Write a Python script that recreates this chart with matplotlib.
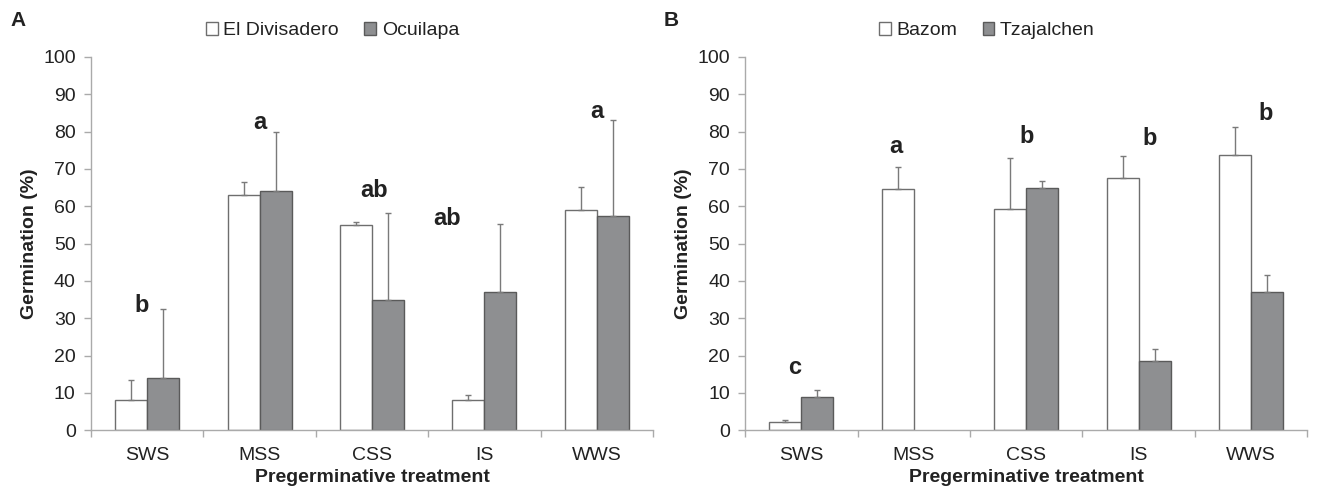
import matplotlib
matplotlib.use("Agg")
import matplotlib.pyplot as plt
import numpy as np

plt.rcParams['font.family'] = ['Liberation Sans', 'DejaVu Sans']

# Data
treatments = ['SWS', 'MSS', 'CSS', 'IS', 'WWS']

# Panel A
a_names = ['El Divisadero', 'Ocuilapa']
a_white = [8.0, 63.0, 55.0, 8.0, 59.0]
a_white_top = [13.5, 66.5, 55.7, 9.3, 65.2]
a_gray = [14.0, 64.0, 35.0, 37.0, 57.3]
a_gray_top = [32.5, 79.8, 58.3, 55.2, 83.0]
a_letters = ['b', 'a', 'ab', 'ab', 'a']
a_letter_y = [33.5, 82.5, 64.3, 56.8, 85.3]

# Panel B
b_names = ['Bazom', 'Tzajalchen']
b_white = [2.2, 64.6, 59.3, 67.6, 73.6]
b_white_top = [2.8, 70.4, 72.8, 73.5, 81.1]
b_gray = [9.0, 0.0, 64.8, 18.5, 37.0]
b_gray_top = [10.8, 0.0, 66.8, 21.7, 41.5]
b_letters = ['c', 'a', 'b', 'b', 'b']
b_letter_y = [16.9, 76.0, 78.6, 78.2, 84.8]

GRAY = '#8e8f91'
EDGE = '#5a5a5a'
ERR = '#7a7a7a'
TXT = '#222222'


def panel(ax, white, wtop, gray, gtop, letters, ly, names, dx):
    x = np.arange(len(treatments))
    w = 0.285
    ax.bar(x - w / 2, white, w, color='white', edgecolor='#6e6e6e', linewidth=1.0, label=names[0], zorder=2)
    bars = ax.bar(x + w / 2, gray, w, color=GRAY, edgecolor=EDGE, linewidth=1.0, label=names[1], zorder=2)
    for b, v in zip(bars, gray):
        if v == 0:
            b.set_linewidth(0)
    for xi, v, t in zip(x - w / 2, white, wtop):
        if t > v:
            ax.errorbar(xi, v, yerr=[[0], [t - v]], fmt='none', ecolor=ERR, elinewidth=1.0, capsize=2.5, capthick=1.0, zorder=3)
    for xi, v, t in zip(x + w / 2, gray, gtop):
        if t > v:
            ax.errorbar(xi, v, yerr=[[0], [t - v]], fmt='none', ecolor=ERR, elinewidth=1.0, capsize=2.5, capthick=1.0, zorder=3)
    for xi, s, yy, d in zip(x, letters, ly, dx):
        ax.text(xi + d, yy, s, ha='center', va='center', fontsize=17, fontweight='bold', color=TXT)
    ax.set_xlim(-0.5, len(treatments) - 0.5)
    ax.set_ylim(0, 100)
    ax.set_yticks(range(0, 101, 10))
    ax.set_xticks(x)
    ax.set_xticklabels(treatments, fontsize=14, color=TXT)
    ax.set_xticks(np.arange(-0.5, len(treatments)), minor=True)
    ax.tick_params(axis='x', which='major', length=0, pad=12)
    ax.tick_params(axis='x', which='minor', length=5, color='#aaaaaa', width=1)
    ax.tick_params(axis='y', length=5, color='#aaaaaa', width=1, labelsize=14, labelcolor=TXT, pad=6)
    for s in ['top', 'right']:
        ax.spines[s].set_visible(False)
    for s in ['left', 'bottom']:
        ax.spines[s].set_color('#aaaaaa')
        ax.spines[s].set_linewidth(1.0)
    ax.set_ylabel('Germination (%)', fontsize=14, fontweight='bold', color=TXT, labelpad=4)
    ax.set_xlabel('Pregerminative treatment', fontsize=14, fontweight='bold', color=TXT, labelpad=4)
    leg = ax.legend(loc='center', bbox_to_anchor=(0.43, 1.07), ncol=2, frameon=False,
                    fontsize=14, handlelength=0.6, handleheight=0.6, handletextpad=0.3, columnspacing=1.3,
                    borderaxespad=0)
    for t in leg.get_texts():
        t.set_color(TXT)


fig = plt.figure(figsize=(13.19, 4.90), dpi=100)
axA = fig.add_axes([0.069, 0.122, 0.426, 0.762])
axB = fig.add_axes([0.565, 0.122, 0.426, 0.762])

panel(axA, a_white, a_white_top, a_gray, a_gray_top, a_letters, a_letter_y, a_names,
      [-0.05, 0.0, 0.02, -0.33, 0.0])
panel(axB, b_white, b_white_top, b_gray, b_gray_top, b_letters, b_letter_y, b_names,
      [-0.06, -0.16, 0.0, 0.1, 0.13])

fig.text(0.008, 0.958, 'A', fontsize=15, fontweight='bold', color=TXT, va='center')
fig.text(0.503, 0.958, 'B', fontsize=15, fontweight='bold', color=TXT, va='center')

fig.savefig('out.png', dpi=100)
